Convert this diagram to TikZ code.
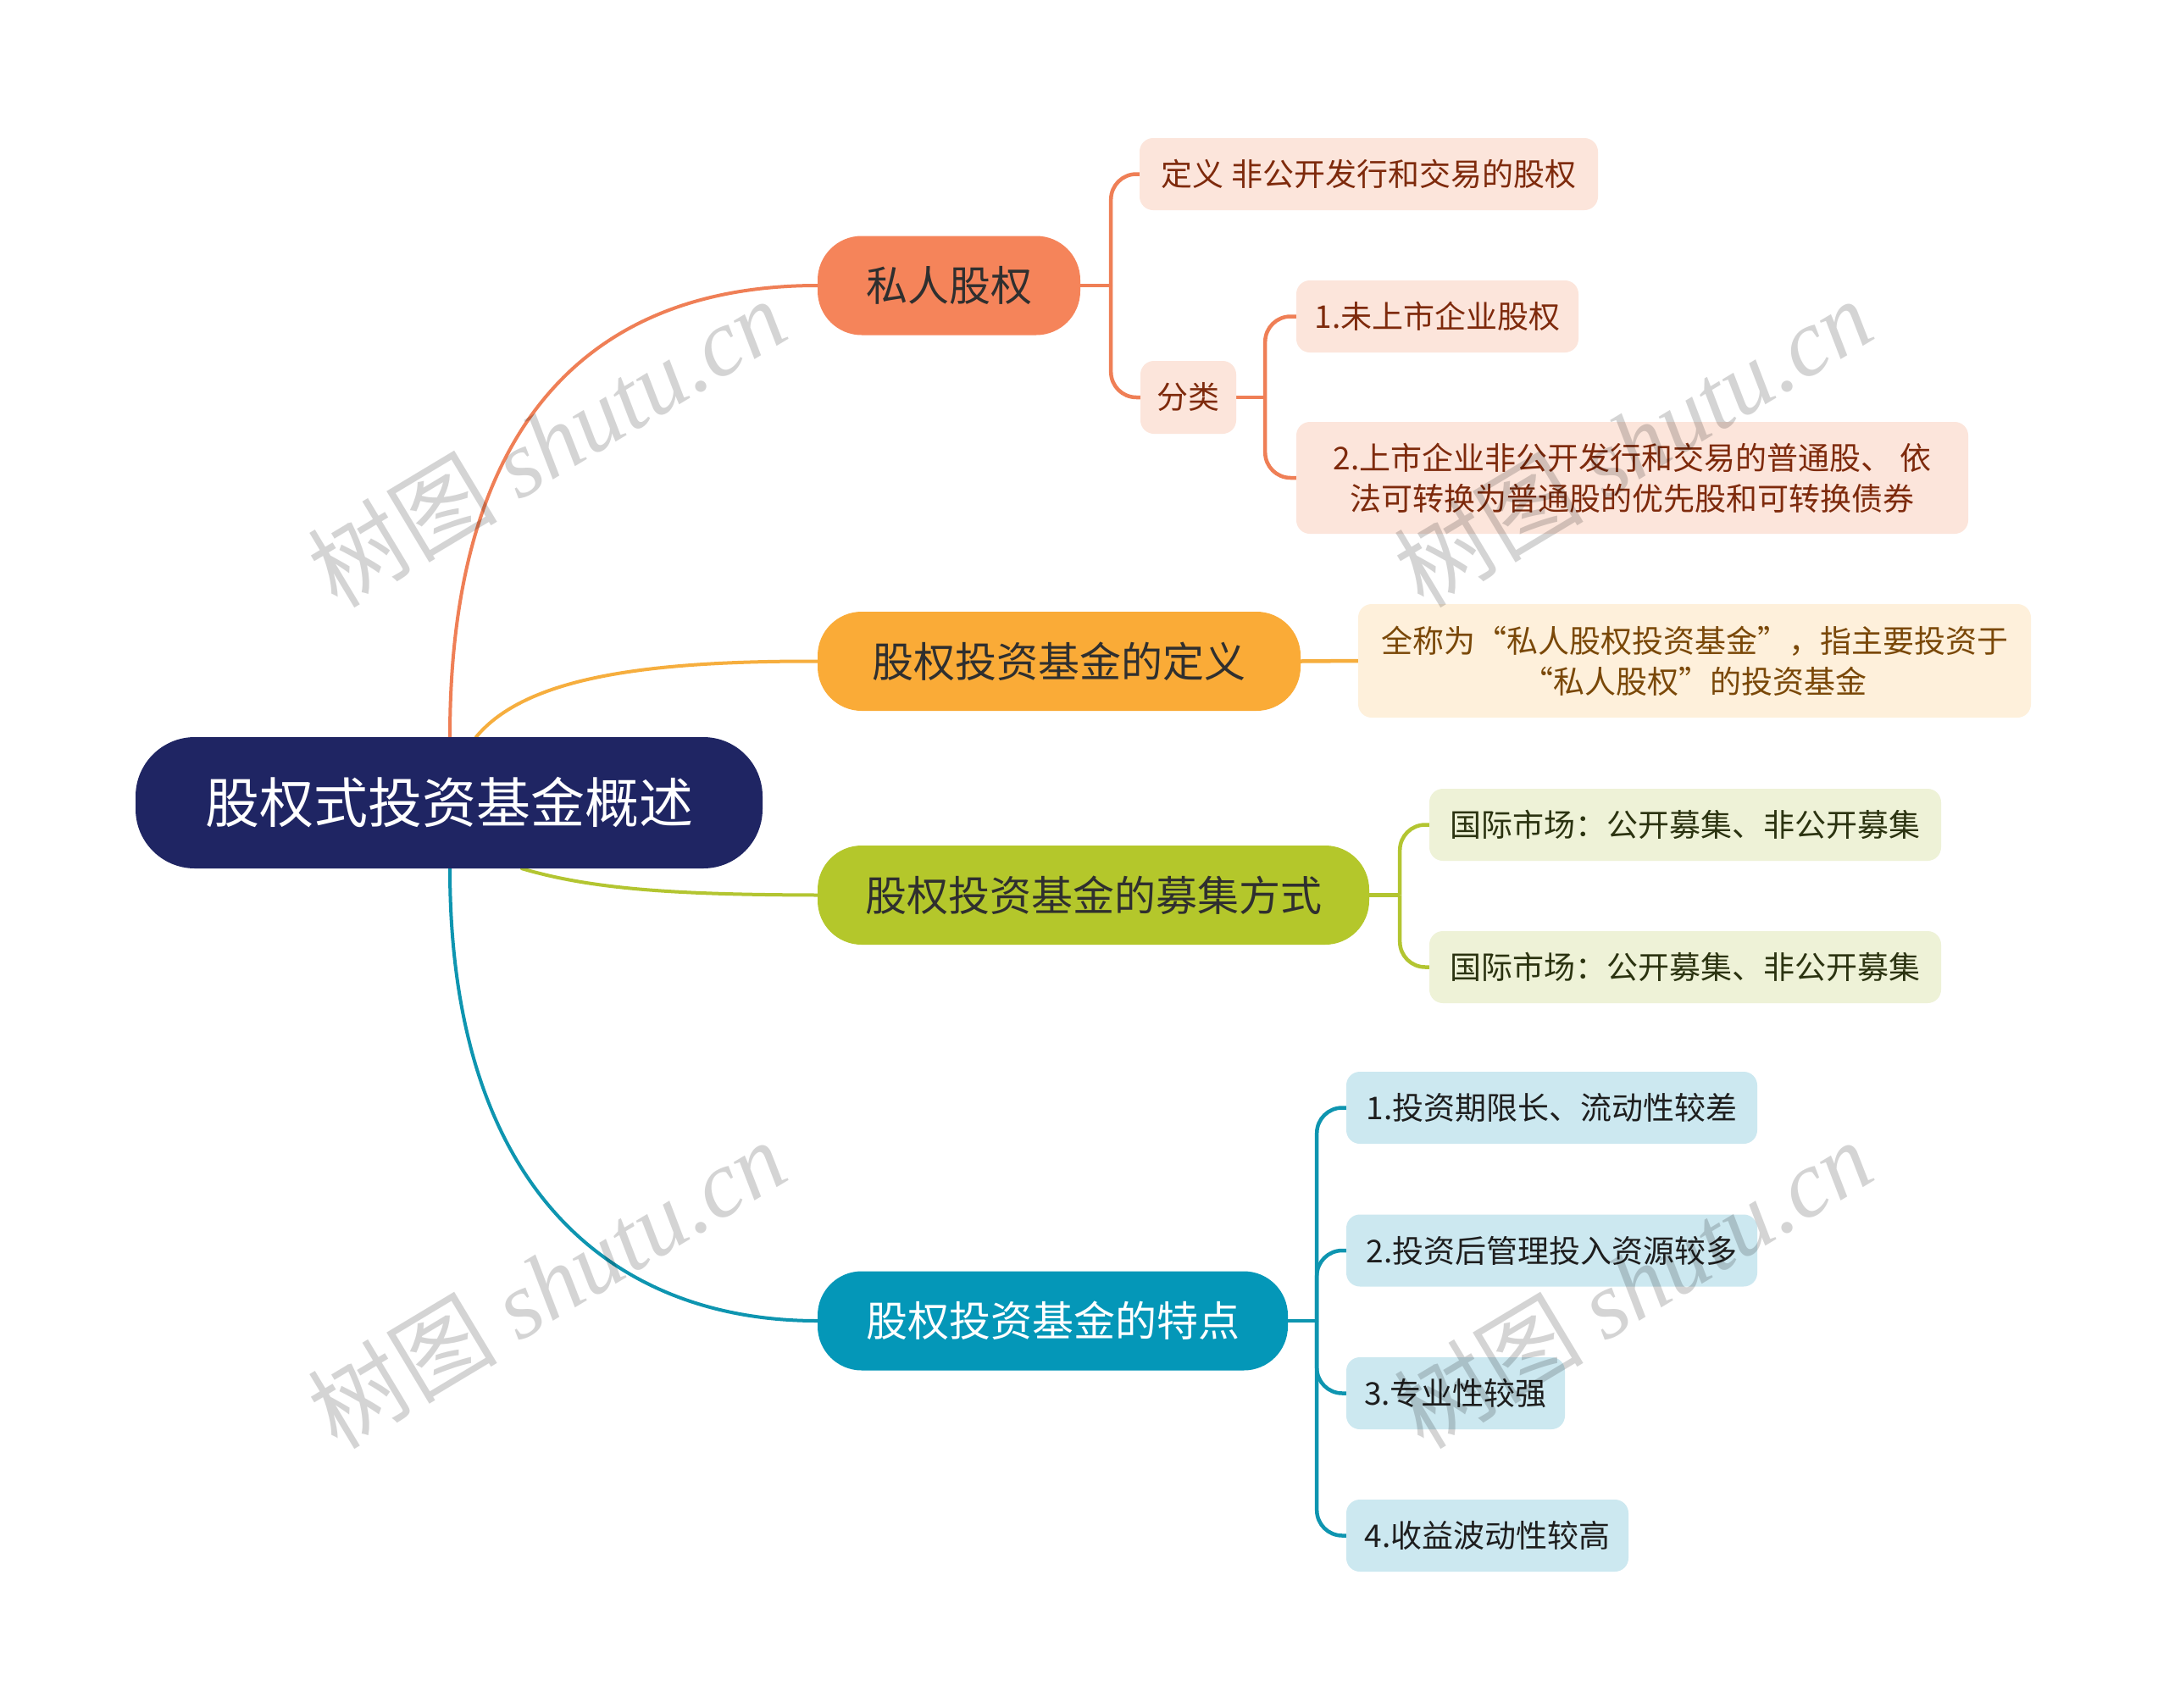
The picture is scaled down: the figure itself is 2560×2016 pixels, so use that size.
\documentclass[tikz,border=0pt]{standalone}
\usepackage{fontspec}
\setmainfont{Noto Sans CJK SC}
\newfontfamily\wmlatin{Liberation Serif}
\usetikzlibrary{calc,backgrounds}
\definecolor{rootc}{HTML}{1F2563}
\definecolor{orM}{HTML}{F5845A}
\definecolor{orL}{HTML}{EF7F56}
\definecolor{orF}{HTML}{FCE5DB}
\definecolor{orT}{HTML}{7E2A0C}
\definecolor{yeM}{HTML}{FAAB37}
\definecolor{yeL}{HTML}{F6AE3E}
\definecolor{yeF}{HTML}{FEF0DB}
\definecolor{yeT}{HTML}{7A4808}
\definecolor{grM}{HTML}{B4C72B}
\definecolor{grL}{HTML}{B3C531}
\definecolor{grF}{HTML}{EEF2D7}
\definecolor{grT}{HTML}{2B3310}
\definecolor{blM}{HTML}{0497B8}
\definecolor{blL}{HTML}{0E95B0}
\definecolor{blF}{HTML}{CCE8F0}
\definecolor{blT}{HTML}{1E1E1E}
\definecolor{mainT}{HTML}{2F2F2F}
\tikzset{
  rootbox/.style={fill=rootc, text=white, rounded corners=70pt, inner sep=0pt,
    minimum width=740pt, minimum height=155pt, font=\fontsize{64}{70}\selectfont},
  mainbox/.style={rounded corners=52pt, inner sep=0pt, minimum height=117pt,
    font=\fontsize{49}{56}\selectfont, text=mainT},
  leafbox/.style={rounded corners=16pt, inner sep=0pt, minimum height=85pt,
    align=center, font=\fontsize{37}{48}\selectfont},
  oleaf/.style={leafbox, fill=orF, text=orT},
  yleaf/.style={leafbox, fill=yeF, text=yeT},
  gleaf/.style={leafbox, fill=grF, text=grT},
  bleaf/.style={leafbox, fill=blF, text=blT},
  conn/.style={line width=4pt, line cap=round},
  bconn/.style={line width=4.5pt, rounded corners=30pt},
  wmark/.style={rotate=31, text=black, text opacity=0.17, font=\fontsize{112}{120}\selectfont},
}
\begin{document}
\begin{tikzpicture}[x=1pt,y=-1pt]
\useasboundingbox (0,0) rectangle (2560,2016);

% root and main branches
\node[rootbox] (root) at (530,947.5) {股权式投资基金概述};
\node[mainbox, fill=orM, minimum width=310pt] (pri) at (1120,337) {私人股权};
\node[mainbox, fill=yeM, minimum width=570pt] (def) at (1250,780.5) {股权投资基金的定义};
\node[mainbox, fill=grM, minimum width=651pt] (rai) at (1290.5,1056.5) {股权投资基金的募集方式};
\node[mainbox, fill=blM, text=white, minimum width=555pt] (fea) at (1242.5,1559) {股权投资基金的特点};

% leaves
\node[oleaf, minimum width=541pt] (o1) at (1615.5,205.5) {定义 非公开发行和交易的股权};
\node[oleaf, minimum width=113pt, minimum height=86pt] (o2) at (1402.5,469) {分类};
\node[oleaf, minimum width=333pt] (o21) at (1696.5,373.5) {1.未上市企业股权};
\node[oleaf, minimum width=793pt, minimum height=132pt] (o22) at (1926.5,564) {2.上市企业非公开发行和交易的普通股、 依\\法可转换为普通股的优先股和可转换债券};
\node[yleaf, minimum width=794pt, minimum height=134pt] (y1) at (2000,780) {全称为“私人股权投资基金”，指主要投资于\\“私人股权”的投资基金};
\node[gleaf, minimum width=604pt] (g1) at (1989,973.5) {国际市场：公开募集、非公开募集};
\node[gleaf, minimum width=604pt] (g2) at (1989,1141.5) {国际市场：公开募集、非公开募集};
\node[bleaf, minimum width=485pt] (b1) at (1831.5,1307.5) {1.投资期限长、流动性较差};
\node[bleaf, minimum width=485pt] (b2) at (1831.5,1476) {2.投资后管理投入资源较多};
\node[bleaf, minimum width=258pt] (b3) at (1718,1644.5) {3.专业性较强};
\node[bleaf, minimum width=333pt] (b4) at (1755.5,1812.5) {4.收益波动性较高};

\begin{pgfonlayer}{background}
\fill[white] (0,0) rectangle (2560,2016);
% root connectors
\coordinate (rO) at ($(root.north)+(1,0)$);
\coordinate (rY) at ($(root.north)+(32,0)$);
\coordinate (rG) at ($(root.south)+(86,0)$);
\coordinate (rB) at ($(root.south)+(1,0)$);
\draw[conn, orL] (rO) .. controls (531,490) and (705,337) .. (pri.west);
\draw[conn, yeL] (rY) .. controls (620,800) and (760,780) .. (def.west);
\draw[conn, grL] (rG) .. controls (700,1050) and (800,1056) .. (rai.west);
\draw[conn, blL] (rB) .. controls (531,1400) and (720,1559) .. (fea.west);

% orange sub connectors
\coordinate (jpri) at ($(pri.east)+(36,0)$);
\draw[bconn, orL] (pri.east) -- (jpri);
\draw[bconn, orL] (jpri) |- (o1.west);
\draw[bconn, orL] (jpri) |- (o2.west);
\coordinate (jo2) at ($(o2.east)+(34,0)$);
\draw[bconn, orL] (o2.east) -- (jo2);
\draw[bconn, orL] (jo2) |- (o21.west);
\draw[bconn, orL] (jo2) |- (o22.west);

% yellow
\draw[bconn, yeL] (def.east) -- (y1.west);

% green
\coordinate (jrai) at ($(rai.east)+(36,0)$);
\draw[bconn, grL] (rai.east) -- (jrai);
\draw[bconn, grL] (jrai) |- (g1.west);
\draw[bconn, grL] (jrai) |- (g2.west);

% blue
\coordinate (jfea) at ($(fea.east)+(34,0)$);
\draw[bconn, blL] (fea.east) -- (jfea);
\draw[bconn, blL] (jfea) |- (b1.west);
\draw[bconn, blL] (jfea) |- (b2.west);
\draw[bconn, blL] (jfea) |- (b3.west);
\draw[bconn, blL] (jfea) |- (b4.west);
\end{pgfonlayer}

% watermarks
\node[wmark] (wm1) at (645,522) {树图 {\wmlatin\itshape shutu.cn}};
\node[wmark] (wm2) at (1927,522) {树图 {\wmlatin\itshape shutu.cn}};
\node[wmark] (wm3) at (645,1515) {树图 {\wmlatin\itshape shutu.cn}};
\node[wmark] (wm4) at (1927,1515) {树图 {\wmlatin\itshape shutu.cn}};
\end{tikzpicture}
\end{document}
